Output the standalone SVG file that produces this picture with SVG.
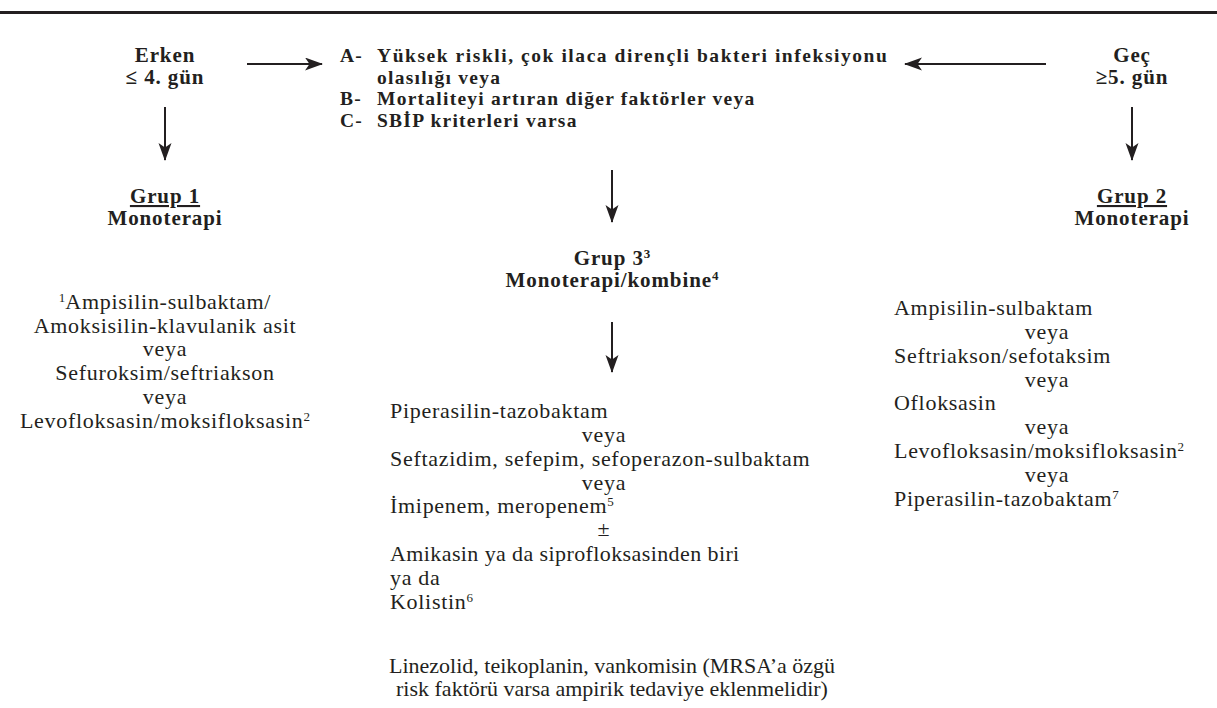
<svg xmlns="http://www.w3.org/2000/svg" width="1217" height="708" viewBox="0 0 1217 708">
<style>
  text { font-family: "Liberation Serif", "Times New Roman", serif; fill: #231f20; }
  .b { font-weight: bold; font-size: 21px; letter-spacing: 0.9px; }
  .h { font-weight: bold; font-size: 19.5px; letter-spacing: 1.25px; }
  .r { font-size: 22px; letter-spacing: 0.7px; }
  .n { letter-spacing: 0; }
  .m { text-anchor: middle; }
  .sup { font-size: 13px; letter-spacing: 0; }
  .conn { stroke: #231f20; stroke-width: 2; fill: none; marker-end: url(#ah); }
</style>
<defs>
  <marker id="ah" markerUnits="userSpaceOnUse" markerWidth="20" markerHeight="14" refX="17" refY="6.5" orient="auto">
    <path d="M0,0 L18,6.5 L0,13 L4.5,6.5 Z" fill="#231f20"/>
  </marker>
</defs>
<rect width="1217" height="708" fill="#ffffff"/>
<line x1="0" y1="12.5" x2="1217" y2="12.5" stroke="#231f20" stroke-width="3"/>

<g id="erken">
  <text class="b m" x="165" y="62">Erken</text>
  <text class="b m" x="165" y="84">≤ 4. gün</text>
</g>
<g id="gec">
  <text class="b m" x="1132" y="62">Geç</text>
  <text class="b m" x="1132" y="84">≥5. gün</text>
</g>
<g id="kriterler">
  <text class="h" x="340" y="62">A-</text>
  <text class="h" x="377" y="62" style="letter-spacing:1.55px">Yüksek riskli, çok ilaca dirençli bakteri infeksiyonu</text>
  <text class="h" x="377" y="83.6">olasılığı veya</text>
  <text class="h" x="340" y="105.2">B-</text>
  <text class="h" x="377" y="105.2">Mortaliteyi artıran diğer faktörler veya</text>
  <text class="h" x="340" y="126.8">C-</text>
  <text class="h" x="377" y="126.8">SBİP kriterleri varsa</text>
</g>
<g id="grup1">
  <text class="b m" x="165" y="203" text-decoration="underline">Grup 1</text>
  <text class="b m" x="165" y="225">Monoterapi</text>
</g>
<g id="grup2">
  <text class="b m" x="1132" y="203" text-decoration="underline">Grup 2</text>
  <text class="b m" x="1132" y="225">Monoterapi</text>
</g>
<g id="grup3">
  <text class="b m" x="612" y="265">Grup 3<tspan class="sup" dy="-7">3</tspan></text>
  <text class="b m" x="612" y="287">Monoterapi/kombine<tspan class="sup" dy="-7">4</tspan></text>
</g>
<g id="liste1">
  <text class="r m" x="165" y="309"><tspan class="sup" dy="-7">1</tspan><tspan dy="7">Ampisilin-sulbaktam/</tspan></text>
  <text class="r m" x="165" y="333">Amoksisilin-klavulanik asit</text>
  <text class="r m" x="165" y="356">veya</text>
  <text class="r m" x="165" y="380">Sefuroksim/seftriakson</text>
  <text class="r m" x="165" y="404">veya</text>
  <text class="r m" x="165" y="428">Levofloksasin/moksifloksasin<tspan class="sup" dy="-7">2</tspan></text>
</g>
<g id="liste3">
  <text class="r" x="390" y="418">Piperasilin-tazobaktam</text>
  <text class="r m" x="604" y="442">veya</text>
  <text class="r" x="390" y="466">Seftazidim, sefepim, sefoperazon-sulbaktam</text>
  <text class="r m" x="604" y="490">veya</text>
  <text class="r" x="390" y="513">İmipenem, meropenem<tspan class="sup" dy="-7">5</tspan></text>
  <text class="r m" x="604" y="536">±</text>
  <text class="r" x="390" y="561" style="letter-spacing:0.4px">Amikasin ya da siprofloksasinden biri</text>
  <text class="r" x="390" y="585">ya da</text>
  <text class="r" x="390" y="609">Kolistin<tspan class="sup" dy="-7">6</tspan></text>
</g>
<g id="not">
  <text class="r n m" x="612" y="673">Linezolid, teikoplanin, vankomisin (MRSA’a özgü</text>
  <text class="r n m" x="612" y="696">risk faktörü varsa ampirik tedaviye eklenmelidir)</text>
</g>
<g id="liste2">
  <text class="r" x="894" y="315">Ampisilin-sulbaktam</text>
  <text class="r m" x="1047" y="339">veya</text>
  <text class="r" x="894" y="363">Seftriakson/sefotaksim</text>
  <text class="r m" x="1047" y="387">veya</text>
  <text class="r" x="894" y="410">Ofloksasin</text>
  <text class="r m" x="1047" y="434">veya</text>
  <text class="r" x="894" y="458">Levofloksasin/moksifloksasin<tspan class="sup" dy="-7">2</tspan></text>
  <text class="r m" x="1047" y="482">veya</text>
  <text class="r" x="894" y="506">Piperasilin-tazobaktam<tspan class="sup" dy="-7">7</tspan></text>
</g>
<g id="connectors">
  <line class="conn" x1="247" y1="64" x2="322" y2="64"/>
  <line class="conn" x1="1046" y1="64" x2="905" y2="64"/>
  <line class="conn" x1="165" y1="107" x2="165" y2="160"/>
  <line class="conn" x1="1132" y1="107" x2="1132" y2="160"/>
  <line class="conn" x1="612" y1="170" x2="612" y2="222"/>
  <line class="conn" x1="612" y1="322" x2="612" y2="372"/>
</g>
</svg>
